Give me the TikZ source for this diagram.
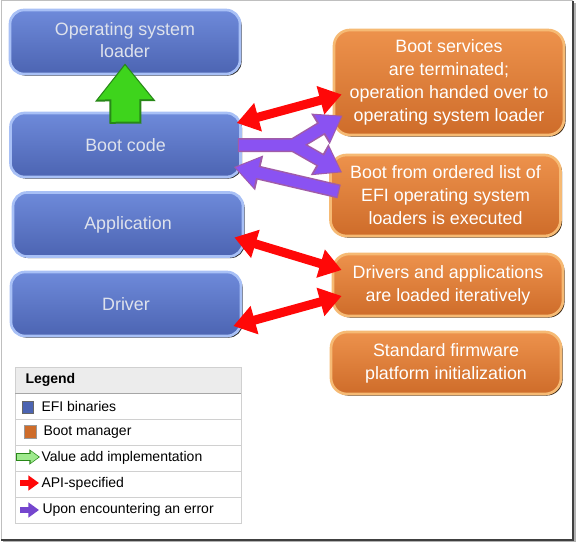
\documentclass[tikz,border=0pt]{standalone}
\usepackage{fontspec}
\setmainfont{Liberation Sans}
\usetikzlibrary{arrows.meta,calc,shadows}

\definecolor{efitop}{RGB}{110,138,218}
\definecolor{efibot}{RGB}{76,100,178}
\definecolor{efirim}{RGB}{168,192,246}
\definecolor{efitext}{RGB}{222,226,236}
\definecolor{bmtop}{RGB}{237,146,76}
\definecolor{bmbot}{RGB}{206,108,42}
\definecolor{bmrim}{RGB}{246,186,116}
\definecolor{apired}{RGB}{255,8,8}
\definecolor{errfill}{RGB}{138,82,242}
\definecolor{errline}{RGB}{160,92,168}
\definecolor{valfill}{RGB}{62,212,28}
\definecolor{valline}{RGB}{40,136,24}
\definecolor{legline}{RGB}{208,208,208}
\definecolor{leghead}{RGB}{236,236,236}

\tikzset{every picture/.style={line width=0.75pt}}
\tikzset{
  efibox/.style={draw=efirim, line width=2pt, rounded corners=10.5pt,
    top color=efitop, bottom color=efibot, minimum width=172.5pt,
    minimum height=48pt, align=center, text=efitext,
    font=\fontsize{13.4}{16.5}\selectfont,
    drop shadow={shadow xshift=1.2pt, shadow yshift=-1.2pt, fill=black!85, opacity=1}},
  bmbox/.style={draw=bmrim, line width=2pt, rounded corners=12pt,
    top color=bmtop, bottom color=bmbot, minimum width=172.5pt,
    align=center, text=white, font=\fontsize{13.4}{17.25}\selectfont,
    drop shadow={shadow xshift=1.2pt, shadow yshift=-1.2pt, fill=black!70!brown, opacity=1}},
  apiarrow/.style={draw=apired, line width=6.75pt,
    {Triangle[width=21pt,length=16.5pt]}-{Triangle[width=21pt,length=16.5pt]}},
  errout/.style={draw=errline, line width=10.5pt, line join=round,
    -{Triangle[width=25.5pt,length=19.5pt]}},
  errin/.style={draw=errfill, line width=8.25pt, line join=round, shorten >=1.5pt,
    -{Triangle[width=21.75pt,length=16.5pt]}},
  legtext/.style={anchor=west, inner sep=0.75pt, font=\fontsize{10.5}{12}\selectfont}
}

\begin{document}
\begin{tikzpicture}[x=0.75pt,y=0.75pt,yscale=-1,xscale=1]
\useasboundingbox (0,0) rectangle (577,542);

%Frame
\fill[black!30] (3,3) rectangle (576,542);
\fill[white] (1,1) rectangle (573,540);
\draw[black!25] (1,540) -- (1,1) -- (573,1);
\draw[black!75, line width=1.2pt] (573,1) -- (573,540) -- (1,540);

%EFI binaries
\node[efibox] (osl) at (125,42) {\raisebox{2.25pt}{\begin{tabular}{@{}c@{}}Operating system\\loader\end{tabular}}};
\node[efibox] (boot) at (125.5,145) {Boot code};
\node[efibox] (app) at (128,224.5) {Application};
\node[efibox] (drv) at (126,304) {Driver};

%Boot manager
\node[bmbox, minimum height=78.75pt] (svc) at (449,82.5) {Boot services\\are terminated;\\operation handed over to\\operating system loader};
\node[bmbox, minimum height=60.75pt] (list) at (445.5,195.5) {Boot from ordered list of\\EFI operating system\\loaders is executed};
\node[bmbox, minimum height=46.5pt] (load) at (448,285) {Drivers and applications\\are loaded iteratively};
\node[bmbox, minimum height=46.5pt] (init) at (446,363) {Standard firmware\\platform initialization};

%Value add arrow
\coordinate (gtail) at ($(boot.north)+(0,12)$);
\coordinate (gtip) at ($(osl.south)+(0,-12)$);
\draw[draw=valline, line width=24pt, -{Triangle[width=43.5pt,length=28.5pt]}] (gtail) -- (gtip);
\draw[draw=valfill, line width=21pt, shorten >=1.5pt, shorten <=1.5pt, -{Triangle[width=39pt,length=25.5pt]}] (gtail) -- (gtip);

%API arrows
\draw[apiarrow] ($(boot.east)+(-5,-22)$) -- ($(svc.west)+(9,12)$);
\draw[apiarrow] ($(app.east)+(-10,13)$) -- ($(load.west)+(10,-15)$);
\draw[apiarrow] ($(drv.east)+(-9,22)$) -- ($(load.west)+(10,11)$);

%Error arrows
\coordinate (ptail) at ($(boot.east)+(-4,0)$);
\coordinate (pfork) at ($(boot.east)+(52,0)$);
\coordinate (ptip1) at ($(svc.west)+(10,33)$);
\coordinate (ptip2) at ($(list.west)+(13,-23)$);
\coordinate (qtail) at ($(list.west)+(10,-4)$);
\coordinate (qtip) at ($(boot.east)+(-8,22)$);
\draw[errout] (ptail) -- (pfork) -- (ptip1);
\draw[errout] (pfork) -- (ptip2);
\draw[errout] (qtail) -- (qtip);
\draw[errin, shorten <=1pt] (ptail) -- (pfork) -- (ptip1);
\draw[errin] (pfork) -- (ptip2);
\draw[errin, shorten <=1pt] (qtail) -- (qtip);

%Legend
\fill[leghead] (15,367) rectangle (241,393);
\draw[legline] (15,367) rectangle (241,523);
\draw[black!35] (15,393) -- (241,393);
\draw[legline] (15,419) -- (241,419);
\draw[legline] (15,445) -- (241,445);
\draw[legline] (15,471) -- (241,471);
\draw[legline] (15,497) -- (241,497);

\draw[black!60, fill=efibot] (22,401) rectangle (33,413);
\draw[black!40, fill=bmbot] (24,425) rectangle (36,438);
\draw[draw=valline, line width=5.5pt, -{Triangle[width=11pt,length=8pt]}] (16,457) -- (40,457);
\draw[draw=valfill!50!white, line width=4pt, shorten >=1pt, shorten <=0.75pt, -{Triangle[width=8.5pt,length=6pt]}] (16,457) -- (40,457);
\draw[draw=apired, line width=5pt, -{Triangle[width=11pt,length=8pt]}] (20,483) -- (39,483);
\draw[draw=errfill!85!black, line width=5pt, -{Triangle[width=11pt,length=8pt]}] (20,510) -- (39,510);

% Text Node
\node[legtext, font=\fontsize{10.5}{12}\selectfont\bfseries] (lghead) at (24,380) {Legend};
% Text Node
\node[legtext] (lgefi) at (40,406) {EFI binaries};
% Text Node
\node[legtext] (lgbm) at (42,432) {Boot manager};
% Text Node
\node[legtext] (lgval) at (40,458) {Value add implementation};
% Text Node
\node[legtext] (lgapi) at (40,484) {API-specified};
% Text Node
\node[legtext] (lgerr) at (41,510) {Upon encountering an error};

\end{tikzpicture}
\end{document}
